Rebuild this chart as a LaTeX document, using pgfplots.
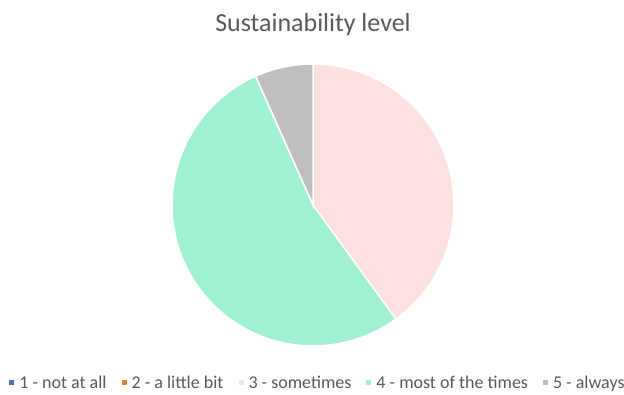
\documentclass[border=0pt]{standalone}
\usepackage{fontspec}
\setmainfont{Carlito}
\usepackage{pgfplots}
\pgfplotsset{compat=1.18}
\definecolor{cA}{HTML}{4472C4}
\definecolor{cB}{HTML}{ED7D31}
\definecolor{cC}{HTML}{FDE0E0}
\definecolor{cD}{HTML}{A0F0D2}
\definecolor{cE}{HTML}{BFBFBF}
\definecolor{txt}{HTML}{595959}
% counts of answers for levels 1..5
\def\vA{0}\def\vB{0}\def\vC{6}\def\vD{8}\def\vE{1}
\begin{document}
\begin{tikzpicture}[x=1pt,y=1pt]
\path[use as bounding box] (0,0) rectangle (624,394);
\pgfmathsetmacro{\tot}{\vA+\vB+\vC+\vD+\vE}
\pgfmathsetmacro{\sC}{90-360*(\vA+\vB)/\tot}
\pgfmathsetmacro{\eC}{\sC-360*\vC/\tot}
\pgfmathsetmacro{\eD}{\eC-360*\vD/\tot}
\pgfmathsetmacro{\eE}{\eD-360*\vE/\tot}
\node[text=txt, font=\fontsize{26}{30}\selectfont, anchor=base, inner sep=0pt] at (313,362) {Sustainability level};
\begin{axis}[at={(313pt,189pt)}, anchor=center, scale only axis,
  width=282pt, height=282pt, xmin=-1, xmax=1, ymin=-1, ymax=1,
  hide axis, clip=false,
  legend columns=5,
  legend style={at={(0.514,-0.131)}, anchor=center, draw=none, fill=none,
    font=\fontsize{18}{20}\selectfont, text=txt,
    nodes={inner sep=0pt},
    /tikz/every odd column/.append style={column sep=5pt},
    /tikz/every even column/.append style={column sep=15pt}},
  legend image code/.code={\fill[#1,draw=none] (0pt,-2.5pt) rectangle (5pt,2.5pt);},
]
\addplot[fill=cC, draw=white, line width=1.5pt, domain=\eC:\sC, samples=90, variable=\t, forget plot]
  ({cos(\t)},{sin(\t)}) -- (axis cs:0,0) -- cycle;
\addplot[fill=cD, draw=white, line width=1.5pt, domain=\eD:\eC, samples=90, variable=\t, forget plot]
  ({cos(\t)},{sin(\t)}) -- (axis cs:0,0) -- cycle;
\addplot[fill=cE, draw=white, line width=1.5pt, domain=\eE:\eD, samples=20, variable=\t, forget plot]
  ({cos(\t)},{sin(\t)}) -- (axis cs:0,0) -- cycle;
\addlegendimage{fill=cA}\addlegendentry{1 - not at all}
\addlegendimage{fill=cB}\addlegendentry{2 - a little bit}
\addlegendimage{fill=cC}\addlegendentry{3 - sometimes}
\addlegendimage{fill=cD}\addlegendentry{4 - most of the times}
\addlegendimage{fill=cE}\addlegendentry{5 - always}
\end{axis}
\end{tikzpicture}
\end{document}
